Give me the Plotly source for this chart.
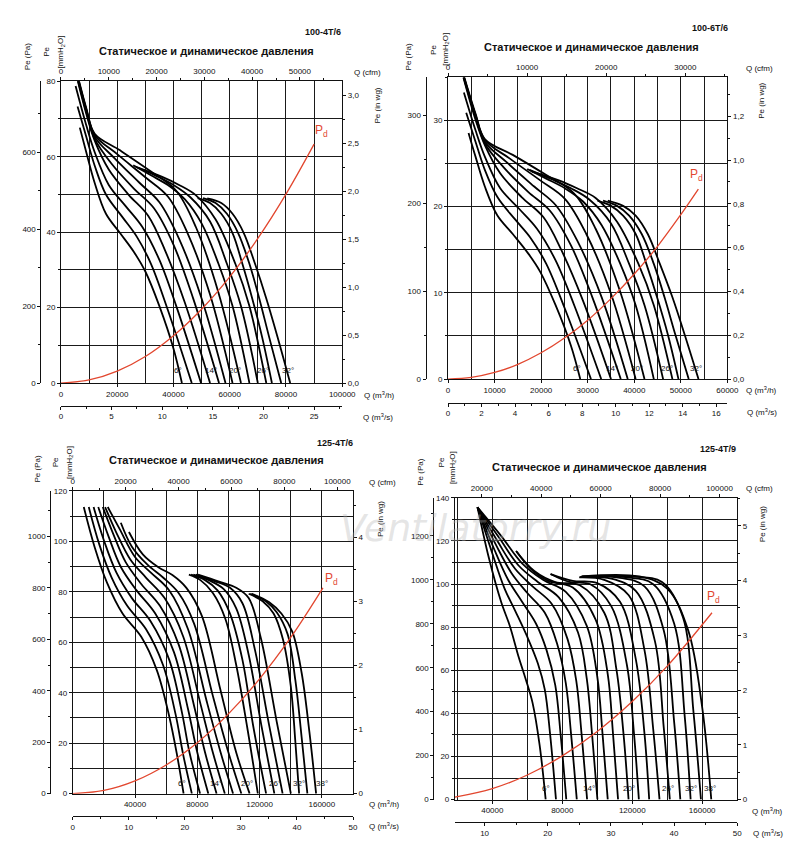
import plotly.graph_objects as go

# ---------------- DATA (Q in thousand m3/h, Pe in Pa) ----------------
p1_curves = [
 [(6.7,664),(9,600),(12,520),(16,440),(21,390),(26,340),(30,290),(35,200),(40,90),(43,0)],
 [(5.9,719),(9,640),(12,565),(16,490),(22,430),(27,380),(32,310),(38,190),(46.5,0)],
 [(5.2,772),(9,670),(12,600),(17,515),(23,460),(29,405),(35,320),(41,200),(49.8,0)],
 [(5.5,800),(9,700),(12,630),(17,555),(24,490),(31,435),(37,345),(44,210),(53,0)],
 [(5.6,800),(9,705),(12,635),(18,570),(26,505),(33,455),(40,360),(47,220),(56.2,0)],
 [(5.7,800),(9,710),(12,640),(19,585),(28,520),(35,470),(42,375),(50,220),(58.5,0)],
 [(5.8,800),(9,712),(12,645),(20,595),(30,535),(38,485),(45,390),(53,230),(61,0)],
 [(5.9,800),(9,715),(12,648),(21,605),(32,550),(41,500),(48,405),(56,235),(64,0)],
 [(25.7,566),(32,540),(38,515),(44,478),(50,415),(56,310),(61,200),(67,0)],
 [(26.5,563),(34,538),(40,515),(46,483),(53,420),(59,310),(64,200),(70,0)],
 [(27.3,560),(36,536),(42,515),(48,488),(55,425),(62,310),(67,200),(73,0)],
 [(48.6,481),(53,468),(57,440),(61,390),(64.5,310),(68,220),(71.5,120),(75,0)],
 [(50.5,481),(55,468),(59,440),(63,390),(67,310),(70.5,220),(74,120),(78.3,0)],
 [(52,480),(57,468),(61,440),(65,390),(69,310),(73,220),(77,120),(81.5,0)],
]
p2_curves = [
 [(4.4,280),(5.9,253),(7.9,219),(10.6,186),(13.9,165),(17.2,143),(19.8,122),(23.1,84),(26.4,38),(28.4,0)],
 [(3.9,303),(5.9,270),(7.9,238),(10.6,207),(14.5,181),(17.8,160),(21.1,131),(25.1,80),(30.7,0)],
 [(3.4,326),(5.9,283),(7.9,253),(11.2,217),(15.2,194),(19.1,171),(23.1,135),(27.1,84),(32.9,0)],
 [(3.3,343),(5.9,295),(7.9,266),(11.2,234),(15.8,207),(20.5,184),(24.4,146),(29,89),(35,0)],
 [(3.35,343),(5.9,298),(7.9,268),(11.9,241),(17.2,213),(21.8,192),(26.4,152),(31,93),(37.1,0)],
 [(3.4,343),(5.9,300),(7.9,270),(12.5,247),(18.5,219),(23.1,198),(27.7,158),(33,93),(38.6,0)],
 [(3.45,343),(5.9,300),(7.9,272),(13.2,251),(19.8,226),(25.1,205),(29.7,165),(35,97),(40.3,0)],
 [(3.5,343),(5.9,302),(7.9,273),(13.9,255),(21.1,232),(27.1,211),(31.7,171),(37,99),(42.2,0)],
 [(17,239),(21.1,228),(25.1,217),(29,202),(33,175),(37,131),(40.3,84),(44.2,0)],
 [(17.5,238),(22.4,227),(26.4,217),(30.4,204),(35,177),(38.9,131),(42.2,84),(46.2,0)],
 [(18,236),(23.8,226),(27.7,217),(31.7,206),(36.3,179),(40.9,131),(44.2,84),(48.2,0)],
 [(32.1,203),(35,197),(37.6,186),(40.3,165),(42.6,131),(44.9,93),(47.2,51),(49.5,0)],
 [(33.3,203),(36.3,197),(38.9,186),(41.6,165),(44.2,131),(46.5,93),(48.8,51),(51.7,0)],
 [(34.3,203),(37.6,197),(40.3,186),(42.9,165),(45.5,131),(48.2,93),(50.8,51),(53.8,0)],
]
p3_curves = [
 [(7.1,1114),(14,960),(22,820),(32,700),(44,610),(54,480),(62,300),(67,150),(71.2,0)],
 [(10.3,1114),(17,970),(25,840),(35,730),(47,640),(58,500),(66,310),(71,150),(76.5,0)],
 [(13.4,1114),(20,985),(28,860),(38,760),(50,670),(62,520),(70,320),(75,160),(81.8,0)],
 [(16.4,1114),(23,1000),(31,880),(41,790),(53,700),(65,550),(74,330),(80,160),(87.1,0)],
 [(19.3,1114),(26,1010),(34,900),(44,815),(56,730),(68,580),(78,340),(85,160),(92.4,0)],
 [(20.8,1114),(28,1015),(37,910),(47,840),(59,760),(71,610),(82,350),(90,160),(97.7,0)],
 [(22.5,1114),(30,1030),(40,920),(50,860),(62,790),(74,640),(86,360),(95,160),(103,0)],
 [(30.9,1053),(38,960),(48,890),(58,840),(68,780),(78,660),(90,380),(100,160),(108.3,0)],
 [(36.1,1017),(45,930),(55,880),(64,850),(73,800),(83,690),(95,400),(105,160),(113.6,0)],
 [(74.6,851),(82,830),(90,780),(98,680),(105,500),(112,260),(118.9,0)],
 [(76,851),(85,830),(93,790),(101,700),(109,520),(116,260),(124.2,0)],
 [(77.5,851),(88,828),(97,795),(105,720),(113,540),(121,270),(129.5,0)],
 [(79,851),(91,826),(101,800),(109,740),(117,560),(126,270),(134.8,0)],
 [(80.5,851),(94,824),(105,800),(113,760),(121,600),(131,280),(140.1,0)],
 [(113,777),(122,748),(129,700),(135,600),(140,420),(143,200),(145.4,0)],
 [(114,777),(124,748),(131,705),(138,620),(143,440),(147,220),(150.7,0)],
 [(115,777),(126,745),(134,700),(141,630),(147,470),(152,240),(156.3,0)],
]
p4_curves = [
 [(31.5,1330),(38,1100),(45,900),(50,790),(55,650),(59,550),(63,440),(67,250),(70.5,0)],
 [(31.5,1330),(40,1120),(47,960),(53,860),(60,740),(66,620),(70,500),(73,300),(76.4,0)],
 [(31.5,1330),(41,1140),(49,1000),(57,900),(65,800),(71,680),(76,520),(79,300),(82.3,0)],
 [(31.5,1330),(42,1160),(51,1030),(60,940),(70,850),(77,710),(82,530),(85,300),(88.3,0)],
 [(31.5,1330),(43,1175),(53,1050),(63,970),(74,890),(83,730),(88,540),(91,300),(94.2,0)],
 [(31.5,1330),(44,1190),(55,1065),(66,990),(78,920),(89,760),(94,550),(97,300),(100.1,0)],
 [(31.5,1330),(45,1200),(57,1075),(69,1000),(82,945),(94,790),(100,560),(103,300),(106,0)],
 [(53.6,1131),(62,1050),(72,995),(86,965),(99,820),(106,570),(109,300),(111.9,0)],
 [(53.6,1131),(64,1040),(76,990),(90,975),(104,850),(111,590),(115,300),(117.9,0)],
 [(73.3,1026),(84,990),(96,980),(108,880),(117,610),(121,300),(123.8,0)],
 [(73.3,1026),(86,995),(100,985),(113,900),(122,640),(127,300),(129.7,0)],
 [(89.7,1011),(104,1000),(118,930),(127,680),(132,320),(135.6,0)],
 [(90,1012),(108,1005),(122,950),(133,720),(138,330),(141.5,0)],
 [(90.5,1013),(112,1010),(127,970),(138,770),(144,350),(147.5,0)],
 [(91,1014),(116,1012),(132,980),(144,800),(150,380),(153.4,0)],
 [(91,1015),(120,1014),(137,990),(149,830),(155,400),(159.3,0)],
 [(91.5,1016),(124,1015),(140,960),(152,770),(160,420),(165.2,0)],
]
p1_pd_q = [0,10,20,30,40,50,60,70,80,90]
p1_pd_p = [0,8,31,69,123,192,276,376,491,621]
p2_pd_q = [0,5,10,15,20,25,30,35,40,45,50,53.77]
p2_pd_p = [0,1.9,7.5,16.8,29.9,46.7,67,91.5,119.5,151,187,216]
p3_pd_q = [0,20,40,60,80,100,120,140,160.7]
p3_pd_p = [0,12.4,49.6,111.5,198,310,446,607,800]
p4_pd_q = [18.6,40,60,80,100,120,140,165.6]
p4_pd_p = [11,50,112,199,310,446,607,850]

angle_labels_6 = ["6°","14°","20°","26°","32°"]
angle_labels_7 = ["6°","14°","20°","26°","32°","38°"]
p1_lab_q = [41.6,53.3,62.0,71.9,80.6]
p2_lab_q = [27.7,35.2,40.5,47.0,53.2]
p3_lab_q = [70.4,91.8,111.8,130.0,145.4,160.1]
p4_lab_q = [70.5,95.4,118.2,140.7,153.8,164.5]

models = ["100-4T/6","100-6T/6","125-4T/6","125-4T/9"]
TITLE = "Статическое и динамическое давления"

# ---------------- LAYOUT ----------------
W, H = 800, 852
fx = lambda x: x / W
fy = lambda y: 1 - y / H
FONT = "Liberation Sans, Arial, sans-serif"
RED = "#e2472f"
GRID = "#1a1a1a"

def comma(v, nd):
    return (f"{v:.{nd}f}").replace(".", ",")

def arange(a, b, s):
    out, v = [], a
    while v <= b + 1e-9:
        out.append(round(v, 6)); v += s
    return out

panels = [
 dict(curves=p1_curves, pdq=p1_pd_q, pdp=p1_pd_p, labs=angle_labels_6, labq=p1_lab_q, laby=33,
      pdlab=(92.8,655), box=(52,339,70,375), pax=31, msy=398,
      xr=(0,100000), xt=arange(0,100000,20000), xg=10000, yr_mm=80, pa_dt=200, pa_m=100, mm_dt=20, mm_g=10,
      wg_vals=[0,0.5,1,1.5,2,2.5,3], wg_nd=1, cfm_t=arange(0,50000,10000), cfm_m=5000,
      ms_r=(0,100000/3600), ms_vals=[0,5,10,15,20,25], ms_m=2.5,
      txt=dict(model=(340,20), title=(200,39), cfm=(365,61), wg=(375,95), m3h=(377,387), m3s=(375,409),
               pa=(18,45), pe=(37,40), mm=(52,40))),
 dict(curves=p2_curves, pdq=p2_pd_q, pdp=p2_pd_p, labs=angle_labels_6, labq=p2_lab_q, laby=12,
      pdlab=(53.4,232), box=(447,732,66,371), pax=424, msy=395,
      xr=(0,60000), xt=arange(0,60000,10000), xg=5000, yr_mm=35, pa_dt=100, pa_m=50, mm_dt=10, mm_g=5,
      wg_vals=[0,0.2,0.4,0.6,0.8,1.0,1.2], wg_nd=1, cfm_t=arange(0,30000,10000), cfm_m=5000,
      ms_r=(0,60000/3600), ms_vals=arange(0,16,2), ms_m=1,
      txt=dict(model=(735,16), title=(593,35), cfm=(765,57), wg=(766,90), m3h=(767,382), m3s=(767,404),
               pa=(407,45), pe=(432,38), mm=(444,38))),
 dict(curves=p3_curves, pdq=p3_pd_q, pdp=p3_pd_p, labs=angle_labels_7, labq=p3_lab_q, laby=41,
      pdlab=(166.3,836), box=(64,350,484,790), pax=41, msy=813,
      xr=(0,180000), xt=arange(40000,160000,40000), xg=20000, yr_mm=120, pa_dt=200, pa_m=100, mm_dt=20, mm_g=10,
      wg_vals=[0,1,2,3,4], wg_nd=0, cfm_t=arange(0,100000,20000), cfm_m=10000,
      ms_r=(0,50), ms_vals=arange(0,50,10), ms_m=5,
      txt=dict(model=(352,436), title=(211,453), cfm=(380,476), wg=(378,512), m3h=(382,800), m3s=(382,823),
               pa=(28,462), pe=(46,455), mm=(61,455))),
 dict(curves=p4_curves, pdq=p4_pd_q, pdp=p4_pd_p, labs=angle_labels_7, labq=p4_lab_q, laby=50,
      pdlab=(166.2,922), box=(454,742,491,796), pax=432, msy=819,
      xr=(18600,180000), xt=arange(40000,160000,40000), xg=20000, yr_mm=140, pa_dt=200, pa_m=100, mm_dt=20, mm_g=10,
      wg_vals=[0,1,2,3,4,5], wg_nd=0, cfm_t=arange(20000,100000,20000), cfm_m=10000,
      ms_r=(5.3,50), ms_vals=arange(10,50,10), ms_m=5,
      txt=dict(model=(743,442), title=(602,460), cfm=(765,482), wg=(768,518), m3h=(773,808), m3s=(773,830),
               pa=(418,465), pe=(440,455), mm=(452,460))),
]

fig = go.Figure()
layout = {}
annotations = []
tickfont = dict(family=FONT, size=8, color="#111")

def axname(kind, i):
    return f"{kind}axis" if i == 1 else f"{kind}axis{i}"
def ref(kind, i):
    return kind if i == 1 else f"{kind}{i}"
def fmt(v):
    return str(int(v)) if float(v).is_integer() else str(v)

common = dict(showline=True, linecolor="#111", linewidth=1, ticks="outside", ticklen=3,
              tickcolor="#111", tickfont=tickfont, zeroline=False, fixedrange=True)

for p, P in enumerate(panels):
    ia, ic, idd = 3*p+1, 3*p+2, 3*p+3
    x0, x1, y0, y1 = P["box"]
    dom_x = [fx(x0), fx(x1)]
    dom_y = [fy(y1), fy(y0)]
    pa_top = P["yr_mm"] * 9.80665
    xr = list(P["xr"])
    layout[axname("x", ia)] = dict(domain=dom_x, range=xr, anchor=ref("y", ic), side="bottom",
        tickvals=P["xt"], ticktext=[fmt(v) for v in P["xt"]],
        showgrid=True, gridcolor=GRID, gridwidth=1,
        minor=dict(dtick=P["xg"], tick0=0, showgrid=True, gridcolor=GRID, gridwidth=1, ticks=""),
        **common)
    cr = [xr[0]/1.699, xr[1]/1.699]
    layout[axname("x", ic)] = dict(overlaying=ref("x", ia), range=cr, side="top", anchor=ref("y", ic),
        tickvals=P["cfm_t"], ticktext=[fmt(v) for v in P["cfm_t"]],
        minor=dict(dtick=P["cfm_m"], tick0=0, ticks="outside", ticklen=2, tickcolor="#111", showgrid=False),
        showgrid=False, **common)
    layout[axname("x", idd)] = dict(overlaying=ref("x", ia), range=list(P["ms_r"]), anchor="free",
        position=fy(P["msy"]), side="bottom", tickvals=P["ms_vals"], ticktext=[fmt(v) for v in P["ms_vals"]],
        minor=dict(dtick=P["ms_m"], tick0=0, ticks="outside", ticklen=2, tickcolor="#111", showgrid=False),
        showgrid=False, **common)
    pt = arange(0, pa_top, P["pa_dt"])
    layout[axname("y", ia)] = dict(domain=dom_y, range=[0, pa_top], anchor="free", position=fx(P["pax"]),
        side="left", tickvals=pt, ticktext=[fmt(v) for v in pt],
        minor=dict(dtick=P["pa_m"], tick0=0, ticks="outside", ticklen=2, tickcolor="#111", showgrid=False),
        showgrid=False, **common)
    mt = arange(0, P["yr_mm"], P["mm_dt"])
    layout[axname("y", ic)] = dict(overlaying=ref("y", ia), range=[0, P["yr_mm"]], anchor=ref("x", ia), side="left",
        tickvals=mt, ticktext=[fmt(v) for v in mt],
        showgrid=True, gridcolor=GRID, gridwidth=1,
        minor=dict(dtick=P["mm_g"], tick0=0, showgrid=True, gridcolor=GRID, gridwidth=1, ticks="outside", ticklen=2, tickcolor="#111"),
        **common)
    layout[axname("y", idd)] = dict(overlaying=ref("y", ia), range=[0, pa_top/249.089], anchor=ref("x", ia), side="right",
        tickvals=P["wg_vals"], ticktext=[comma(v, P["wg_nd"]) for v in P["wg_vals"]],
        minor=dict(dtick=(P["wg_vals"][1]-P["wg_vals"][0])/2, tick0=0, ticks="outside", ticklen=2, tickcolor="#111"),
        showgrid=False, **common)

    for xi, yi in [(ia, ic), (ic, idd), (idd, ia), (ia, idd), (ic, ic)]:
        fig.add_trace(go.Scatter(x=[None], y=[None], xaxis=ref("x", xi), yaxis=ref("y", yi),
            mode="markers", showlegend=False, hoverinfo="skip"))

    xa, ya = ref("x", ia), ref("y", ia)
    for c in P["curves"]:
        fig.add_trace(go.Scatter(x=[q*1000 for q, _ in c], y=[v for _, v in c], mode="lines",
            line=dict(color="#000", width=1.8, shape="spline", smoothing=1.0),
            xaxis=xa, yaxis=ya, showlegend=False, hoverinfo="skip"))
    fig.add_trace(go.Scatter(x=[q*1000 for q in P["pdq"]], y=P["pdp"], mode="lines",
        line=dict(color=RED, width=1.3, shape="spline"), xaxis=xa, yaxis=ya, showlegend=False))
    for t, q in zip(P["labs"], P["labq"]):
        annotations.append(dict(x=q*1000, y=P["laby"], xref=xa, yref=ya, text=t, showarrow=False,
            font=dict(family=FONT, size=8, color="#111")))
    annotations.append(dict(x=P["pdlab"][0]*1000, y=P["pdlab"][1], xref=xa, yref=ya, text="P<sub>d</sub>",
        showarrow=False, font=dict(family=FONT, size=12, color=RED)))

    T = P["txt"]
    def ann(key, text, size=8, angle=0, xanchor="center", bold=False):
        x, y = T[key]
        annotations.append(dict(x=fx(x), y=fy(y), xref="paper", yref="paper", text=(f"<b>{text}</b>" if bold else text),
            showarrow=False, textangle=angle, xanchor=xanchor, yanchor="middle",
            font=dict(family=FONT, size=size, color="#111")))
    ann("model", models[p], size=9, xanchor="right", bold=True)
    ann("title", TITLE, size=11, bold=True)
    ann("cfm", "Q (cfm)")
    ann("wg", "Pe (in wg)", angle=-90)
    ann("m3h", "Q (m<sup>3</sup>/h)")
    ann("m3s", "Q (m<sup>3</sup>/s)")
    ann("pa", "Pe (Pa)", angle=-90)
    ann("pe", "Pe", angle=-90)
    ann("mm", "[mmH<sub>2</sub>O]", angle=-90)

annotations.append(dict(x=fx(615), y=fy(522), xref="paper", yref="paper", text="<i>Ventilatorry.ru</i>",
    showarrow=False, font=dict(family="DejaVu Sans, sans-serif", size=38, color="rgba(180,180,180,0.35)")))

fig.update_layout(width=W, height=H, margin=dict(l=0, r=0, t=0, b=0), plot_bgcolor="white",
    paper_bgcolor="white", showlegend=False, annotations=annotations, font=dict(family=FONT), **layout)
fig.write_html("out.html")
